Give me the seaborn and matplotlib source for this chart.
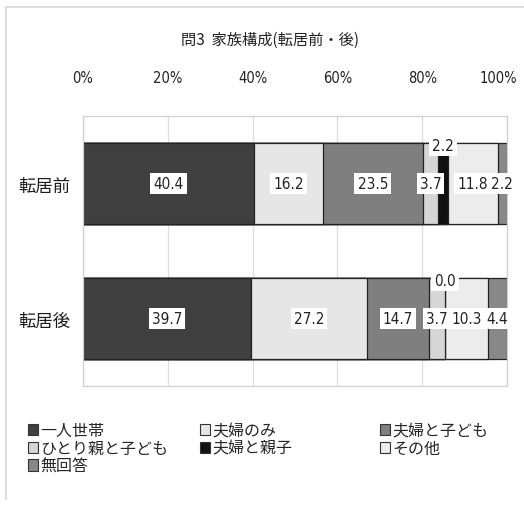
import matplotlib
matplotlib.use("Agg")
import matplotlib.pyplot as plt
from matplotlib.patches import Patch
from matplotlib.lines import Line2D
from matplotlib.transforms import ScaledTranslation
from matplotlib import font_manager
import seaborn as sns
import numpy as np
import pandas as pd

sns.set_theme(style="white")
plt.rcParams['font.family'] = ['Noto Sans CJK JP', 'DejaVu Sans']

condensed = any(f.name == 'DejaVu Sans' and 'Condensed' in f.fname
                for f in font_manager.fontManager.ttflist)
num_kw = dict(family='DejaVu Sans', stretch='condensed') if condensed else dict(family=['Noto Sans CJK JP', 'DejaVu Sans'])
tick_size = 10.5 if condensed else 9.5
lab_size = 11 if condensed else 10

title = "問3  家族構成(転居前・後)"
rows = ["転居前", "転居後"]
categories = ["一人世帯", "夫婦のみ", "夫婦と子ども", "ひとり親と子ども", "夫婦と親子", "その他", "無回答"]
before = [40.4, 16.2, 23.5, 3.7, 2.2, 11.8, 2.2]
after = [39.7, 27.2, 14.7, 3.7, 0.0, 10.3, 4.4]
colors = ["#404040", "#e6e6e6", "#7f7f7f", "#d6d6d6", "#111111", "#ececec", "#888888"]
ticks = [0, 20, 40, 60, 80, 100]
tick_labels = ["0%", "20%", "40%", "60%", "80%", "100%"]

vals = np.array([before, after])
cum = np.cumsum(vals, axis=1)

fig = plt.figure(figsize=(5.24, 5.06), dpi=100)
ax = fig.add_axes([83/524, 1 - 387/506, (507-83)/524, (387-117)/506])

for j in range(len(categories) - 1, -1, -1):
    df = pd.DataFrame({"row": rows, "value": cum[:, j]})
    sns.barplot(data=df, x="value", y="row", orient="h", color=colors[j],
                width=0.6, edgecolor="#222222", linewidth=0.9, ax=ax,
                saturation=1, zorder=2)

ax.set_xlim(0, 100)
ax.set_ylim(1.5, -0.5)
ax.set_xticks(ticks)
ax.set_xticklabels(tick_labels, fontsize=tick_size, **num_kw)
ax.xaxis.tick_top()
ax.tick_params(axis="x", length=0, pad=22, colors="#222222")
ax.tick_params(axis="y", length=0, pad=9, labelsize=12.5, colors="#1a1a1a")
last = ax.get_xticklabels()[-1]
last.set_transform(last.get_transform() + ScaledTranslation(-6/72, 0, fig.dpi_scale_trans))
ax.set_xlabel("")
ax.set_ylabel("")
ax.grid(axis="x", color="#dddddd", linewidth=0.9, zorder=0)
ax.set_axisbelow(True)
for s in ax.spines.values():
    s.set_color("#d0d0d0")
    s.set_linewidth(0.9)

bbox = dict(boxstyle="square,pad=0.2", fc="white", ec="none")
for i in range(len(rows)):
    for j in range(len(categories)):
        v = vals[i, j]
        center = cum[i, j] - v / 2
        y = i - 0.28 if j == 4 else i
        ax.text(center, y, f"{v:.1f}", ha="center", va="center",
                fontsize=lab_size, color="#222222", bbox=bbox, zorder=5, **num_kw)

fig.text(270/524, 1 - 40/506, title, ha="center", va="center", fontsize=11, color="#222222")

handles = [Patch(facecolor=c, edgecolor="#333333", linewidth=0.8) for c in colors]
col_items = [[0, 3, 6], [1, 4], [2, 5]]
col_x = [28, 200, 380]
for items, x in zip(col_items, col_x):
    fig.legend([handles[k] for k in items], [categories[k] for k in items],
               loc="upper left", bbox_to_anchor=(x/524, 1 - 423/506), ncol=1,
               frameon=False, fontsize=11.5, handlelength=0.6, handleheight=0.7,
               handletextpad=0.15, labelspacing=0.05,
               borderaxespad=0, borderpad=0)

fig.add_artist(Line2D([6/524, 1], [1 - 8/506, 1 - 8/506], color="#dddddd", linewidth=1.5))
fig.add_artist(Line2D([6/524, 6/524], [1 - 8/506, 1 - 500/506], color="#dddddd", linewidth=1.5))

fig.savefig("out.png", dpi=100)
